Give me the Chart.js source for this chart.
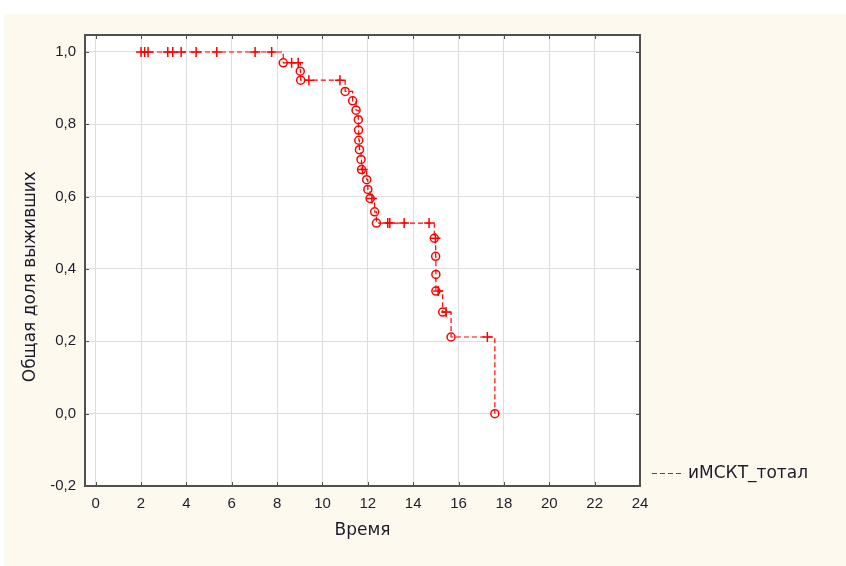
<!DOCTYPE html>
<html>
<head>
<meta charset="utf-8">
<title>Общая доля выживших</title>
<script src="https://cdn.jsdelivr.net/npm/chart.js@4.4.1/dist/chart.umd.min.js"></script>
<style>
  html, body { margin: 0; padding: 0; background: #ffffff; }
  #wrap { width: 846px; height: 566px; }
</style>
</head>
<body>
<div id="wrap"><canvas id="survivalChart" width="846" height="566"></canvas></div>
<script>
const seriesName = 'иМСКТ_тотал';

// time, survival after that time, 1 = event (o), 0 = censored (+)
const times = [
  2.0, 2.16, 2.31, 3.18, 3.40, 3.77, 4.43, 5.34, 7.03, 7.76,
  8.27, 8.64, 8.93, 9.02, 9.04, 9.40, 10.77,
  11.0, 11.33, 11.48, 11.58, 11.59, 11.60, 11.63, 11.70, 11.72, 11.77,
  11.95, 12.0, 12.10, 12.18, 12.30, 12.38,
  12.88, 12.97, 13.60, 14.70,
  14.93, 14.98, 14.99, 15.0, 15.0, 15.10,
  15.30, 15.45, 15.67, 17.27, 17.60
];
const survival = [
  1.0, 1.0, 1.0, 1.0, 1.0, 1.0, 1.0, 1.0, 1.0, 1.0,
  0.970, 0.970, 0.970, 0.947, 0.922, 0.922, 0.922,
  0.891, 0.865, 0.839, 0.813, 0.784, 0.756, 0.730, 0.703, 0.675, 0.675,
  0.647, 0.620, 0.595, 0.595, 0.558, 0.527,
  0.527, 0.527, 0.527, 0.527,
  0.485, 0.485, 0.435, 0.385, 0.339, 0.339,
  0.281, 0.281, 0.212, 0.212, 0.0
];
const status = [
  0, 0, 0, 0, 0, 0, 0, 0, 0, 0,
  1, 0, 0, 1, 1, 0, 0,
  1, 1, 1, 1, 1, 1, 1, 1, 1, 0,
  1, 1, 1, 0, 1, 1,
  0, 0, 0, 0,
  1, 0, 1, 1, 1, 0,
  1, 0, 1, 0, 1
];

const xTicks = [0, 2, 4, 6, 8, 10, 12, 14, 16, 18, 20, 22, 24];
const yTicks = [-0.2, 0, 0.2, 0.4, 0.6, 0.8, 1.0];

const red = '#ff0000';
const frameColor = '#505050';
const gridColor = '#dedede';
const textColor = '#1c1c2c';
const tickFont = { family: '"Liberation Sans", Arial, sans-serif', size: 15 };
const titleFont = { family: '"DejaVu Sans", Verdana, sans-serif', size: 17 };

const points = times.map((t, i) => ({ x: t, y: survival[i] }));

const frame = {
  id: 'frame',
  beforeDraw(chart) {
    const { ctx, chartArea: a } = chart;
    ctx.save();
    ctx.fillStyle = '#ffffff';
    ctx.fillRect(0, 0, chart.width, chart.height);
    ctx.fillStyle = '#fef9ef';
    ctx.fillRect(4, 14, chart.width - 4, chart.height - 14);
    ctx.fillStyle = '#ffffff';
    ctx.fillRect(a.left, a.top, a.right - a.left, a.bottom - a.top);
    ctx.restore();
  },
  afterDraw(chart) {
    const { ctx, chartArea: a, scales } = chart;
    ctx.save();
    ctx.strokeStyle = frameColor;
    ctx.lineWidth = 2;
    ctx.strokeRect(a.left, a.top, a.right - a.left, a.bottom - a.top);

    // small inward ticks
    ctx.lineWidth = 1;
    ctx.beginPath();
    xTicks.forEach(v => {
      const px = Math.round(scales.x.getPixelForValue(v)) + 0.5;
      ctx.moveTo(px, a.top); ctx.lineTo(px, a.top + 4);
      ctx.moveTo(px, a.bottom); ctx.lineTo(px, a.bottom - 4);
    });
    yTicks.forEach(v => {
      const py = Math.round(scales.y.getPixelForValue(v)) + 0.5;
      ctx.moveTo(a.left, py); ctx.lineTo(a.left + 4, py);
      ctx.moveTo(a.right, py); ctx.lineTo(a.right - 4, py);
    });
    ctx.stroke();

    // legend
    const ly = 473.5;
    ctx.strokeStyle = red;
    ctx.lineWidth = 1.2;
    ctx.setLineDash([5, 3]);
    ctx.beginPath();
    ctx.moveTo(652, ly);
    ctx.lineTo(682, ly);
    ctx.stroke();
    ctx.setLineDash([]);
    ctx.fillStyle = textColor;
    ctx.font = '17px "DejaVu Sans", Verdana, sans-serif';
    ctx.textBaseline = 'middle';
    ctx.fillText(seriesName, 688, ly);
    ctx.restore();
  }
};

new Chart('survivalChart', {
  type: 'line',
  data: {
    datasets: [{
      label: seriesName,
      data: points,
      stepped: true,
      borderColor: red,
      borderWidth: 1.2,
      borderDash: [5, 3],
      fill: false,
      pointStyle: status.map(s => s ? 'circle' : 'cross'),
      pointRadius: status.map(s => s ? 4 : 5),
      pointBorderColor: red,
      pointBackgroundColor: 'rgba(0,0,0,0)',
      pointBorderWidth: 1.5
    }]
  },
  options: {
    responsive: false,
    animation: false,
    devicePixelRatio: 1,
    layout: { padding: { left: 0, top: 35, right: 206, bottom: 0 } },
    plugins: {
      legend: { display: false },
      tooltip: { enabled: false }
    },
    scales: {
      x: {
        type: 'linear',
        min: -0.47,
        max: 24,
        afterBuildTicks: scale => { scale.ticks = xTicks.map(v => ({ value: v })); },
        afterFit: scale => { scale.height = 80; },
        grid: { color: gridColor, drawTicks: false },
        border: { display: false },
        ticks: {
          padding: 9,
          color: textColor,
          font: tickFont,
          maxRotation: 0,
          callback: v => String(v)
        },
        title: {
          display: true,
          text: 'Время',
          color: textColor,
          font: titleFont,
          padding: { top: 0, bottom: 25 }
        }
      },
      y: {
        min: -0.2,
        max: 1.047,
        afterBuildTicks: scale => { scale.ticks = yTicks.map(v => ({ value: v })); },
        afterFit: scale => { scale.width = 85; },
        grid: { color: gridColor, drawTicks: false },
        border: { display: false },
        ticks: {
          padding: 9,
          color: textColor,
          font: tickFont,
          callback: v => v.toFixed(1).replace('.', ',')
        },
        title: {
          display: true,
          text: 'Общая доля выживших      ',
          color: textColor,
          font: titleFont,
          padding: { top: 20, bottom: 0 }
        }
      }
    }
  },
  plugins: [frame]
});
</script>
</body>
</html>
